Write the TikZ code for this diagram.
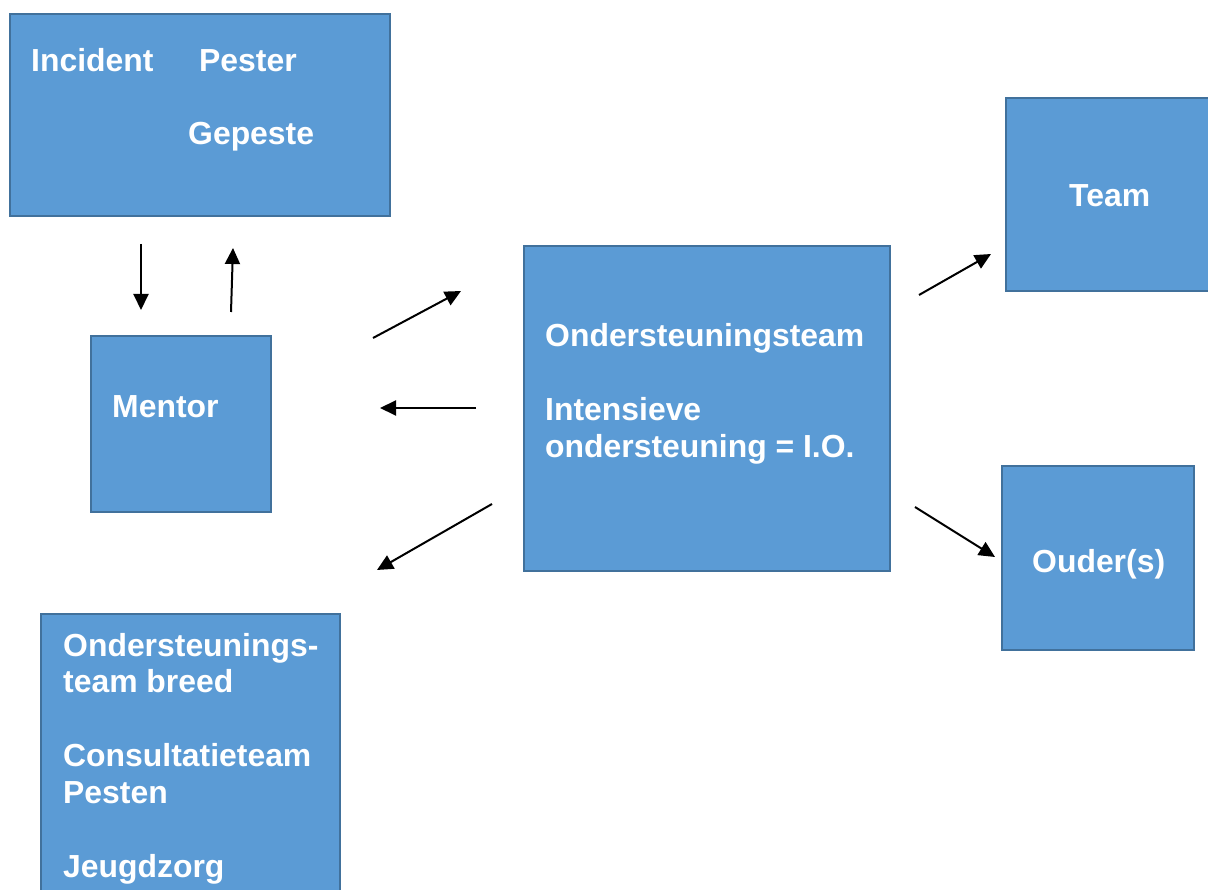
\documentclass[tikz,border=0pt]{standalone}
\usepackage{fontspec}
\setmainfont{Liberation Sans}
\usetikzlibrary{arrows.meta}
\definecolor{boxblue}{HTML}{5B9BD5}
\definecolor{boxline}{HTML}{41719C}
\begin{document}
\begin{tikzpicture}[x=1pt,y=-1pt,
  box/.style={draw=boxline,fill=boxblue,line width=2.5pt,anchor=north west,inner sep=0pt,outer sep=0pt},
  lbl/.style={anchor=base west,inner sep=0pt,text=white,font=\fontsize{31.9}{36.7}\selectfont\bfseries,align=left},
  arr/.style={line width=2pt,-{Triangle[length=16pt,width=15pt]}}]
\useasboundingbox (0,0) rectangle (1208,890);
% boxes
\node[box,minimum width=380pt,minimum height=202pt] (incbox) at (10,14) {};
\node[box,minimum width=180pt,minimum height=176pt] (mentorbox) at (91,336) {};
\node[box,minimum width=366pt,minimum height=325pt] (otbox) at (524,246) {};
\node[box,minimum width=210pt,minimum height=193pt] (teambox) at (1006,98) {};
\node[box,minimum width=192pt,minimum height=184pt] (ouderbox) at (1002,466) {};
\node[box,minimum width=299pt,minimum height=290pt] (breedbox) at (41,614) {};
% texts (base = last line)
\node[lbl] (incident) at (31,72) {Incident};
\node[lbl] (pester) at (199,72) {Pester};
\node[lbl] (gepeste) at (188,145) {Gepeste};
\node[lbl] (mentor) at (112,418) {Mentor};
\node[lbl] (team) at (1069,207) {Team};
\node[lbl] (ouder) at (1032,572) {Ouder(s)};
\node[lbl] (ot) at (545,457) {Ondersteuningsteam\\[37pt]Intensieve\\ondersteuning = I.O.};
\node[lbl] (breed) at (63,877) {Ondersteunings-\\team breed\\[37pt]Consultatieteam\\Pesten\\[37pt]Jeugdzorg};
% arrow ends
\coordinate (d1) at (141,244); \coordinate (d2) at (141,310);
\coordinate (u1) at (231,312); \coordinate (u2) at (233,248);
\coordinate (r1) at (373,338); \coordinate (r2) at (461,291);
\coordinate (l1) at (476,408); \coordinate (l2) at (380,408);
\coordinate (dl1) at (492,504); \coordinate (dl2) at (377,570);
\coordinate (t1) at (919,295); \coordinate (t2) at (991,254);
\coordinate (o1) at (915,507); \coordinate (o2) at (995,557);
\draw[arr] (d1) -- (d2); %naar mentor
\draw[arr] (u1) -- (u2); %terug
\draw[arr] (r1) -- (r2);
\draw[arr] (l1) -- (l2);
\draw[arr] (dl1) -- (dl2);
\draw[arr] (t1) -- (t2);
\draw[arr] (o1) -- (o2);
\end{tikzpicture}
\end{document}
